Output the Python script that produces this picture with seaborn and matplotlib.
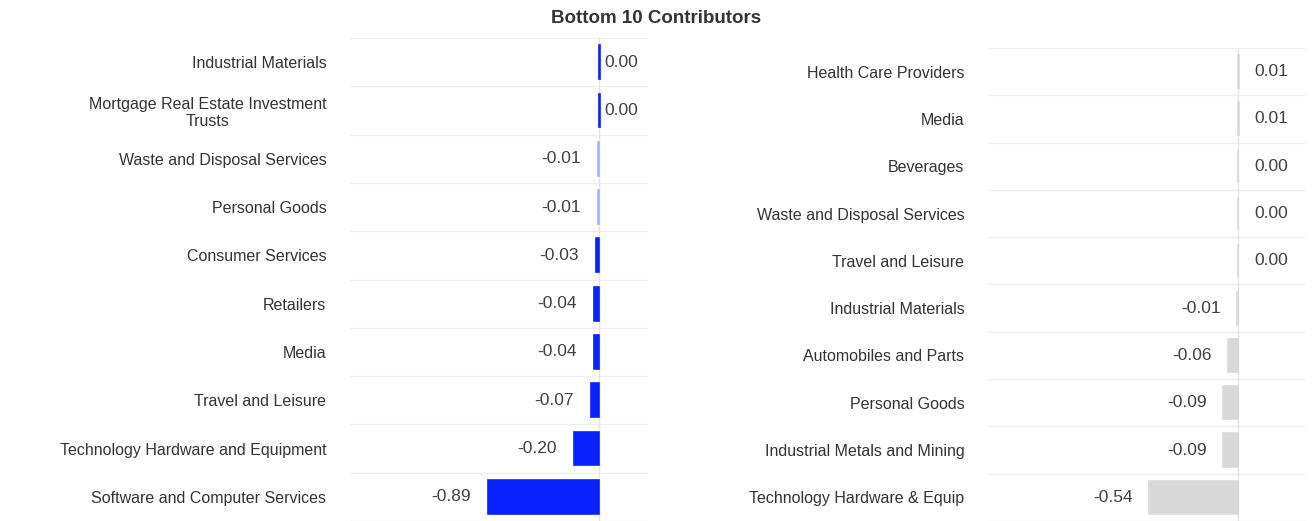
import matplotlib
matplotlib.use('Agg')
import matplotlib.pyplot as plt
import seaborn as sns

sns.set_theme(style='white')
plt.rcParams['font.family'] = ['Liberation Sans', 'DejaVu Sans']

# Left panel data
left_labels = ['Industrial Materials', 'Mortgage Real Estate Investment\nTrusts',
               'Waste and Disposal Services', 'Personal Goods', 'Consumer Services',
               'Retailers', 'Media', 'Travel and Leisure',
               'Technology Hardware and Equipment', 'Software and Computer Services']
left_values = [0.003, 0.003, -0.008, -0.008, -0.03, -0.04, -0.04, -0.066, -0.20, -0.89]
left_colors = ['#0a22ff', '#0a22ff', '#a8b2f7', '#a8b2f7', '#0a22ff',
               '#0a22ff', '#0a22ff', '#0a22ff', '#0a22ff', '#0a22ff']

# Right panel data
right_labels = ['Health Care Providers', 'Media', 'Beverages', 'Waste and Disposal Services',
                'Travel and Leisure', 'Industrial Materials', 'Automobiles and Parts',
                'Personal Goods', 'Industrial Metals and Mining', 'Technology Hardware & Equip']
right_values = [0.006, 0.006, 0.003, 0.003, 0.003, -0.006, -0.06, -0.09, -0.09, -0.54]
right_color = '#d9d9d9'

fig = plt.figure(figsize=(13.12, 5.21), dpi=100)
ax1 = fig.add_axes([0.2668, 0.0, 0.2271, 0.927])
ax2 = fig.add_axes([0.7530, 0.0, 0.2416, 0.908])


def draw_panel(ax, labels, values, colors, xlim, pos_pad, neg_pad):
    sns.barplot(x=values, y=labels, hue=labels, palette=colors, legend=False,
                width=0.7, ax=ax, saturation=1)
    # thin outline in the bar colour so near-zero bars stay visible
    for patch, c in zip(ax.patches, colors):
        patch.set_edgecolor(c)
        patch.set_linewidth(1.2)
        patch.set_zorder(2)
    ax.set_xlim(*xlim)
    ax.set_ylim(9.5, -0.5)
    for b in [i - 0.5 for i in range(11)]:
        ax.axhline(b, color='#efefef', lw=1, zorder=0)
    ax.axvline(0, color='#e4e4e4', lw=1, zorder=1)
    for i, v in enumerate(values):
        if v >= 0:
            ax.annotate(f'{v:.2f}', (v, i), xytext=(pos_pad, 0), textcoords='offset points',
                        ha='left', va='center', fontsize=12.5, color='#404040')
        else:
            ax.annotate(f'{v:.2f}', (v, i), xytext=(-neg_pad, 0), textcoords='offset points',
                        ha='right', va='center', fontsize=12.5, color='#404040')
    ax.set_xticks([])
    ax.set_xlabel('')
    ax.set_ylabel('')
    ax.tick_params(axis='y', length=0, pad=17, labelsize=11.5, labelcolor='#333333')
    for t in ax.get_yticklabels():
        t.set_multialignment('center')
    sns.despine(ax=ax, left=True, bottom=True)


draw_panel(ax1, left_labels, left_values, left_colors, (-2.0, 0.39), 3, 12.5)
draw_panel(ax2, right_labels, right_values, [right_color] * 10, (-1.52, 0.41), 11.5, 11.5)

fig.text(0.5, 0.965, 'Bottom 10 Contributors', ha='center', va='center',
         fontsize=13.5, fontweight='bold', color='#333333')

fig.savefig('out.png', dpi=100)
